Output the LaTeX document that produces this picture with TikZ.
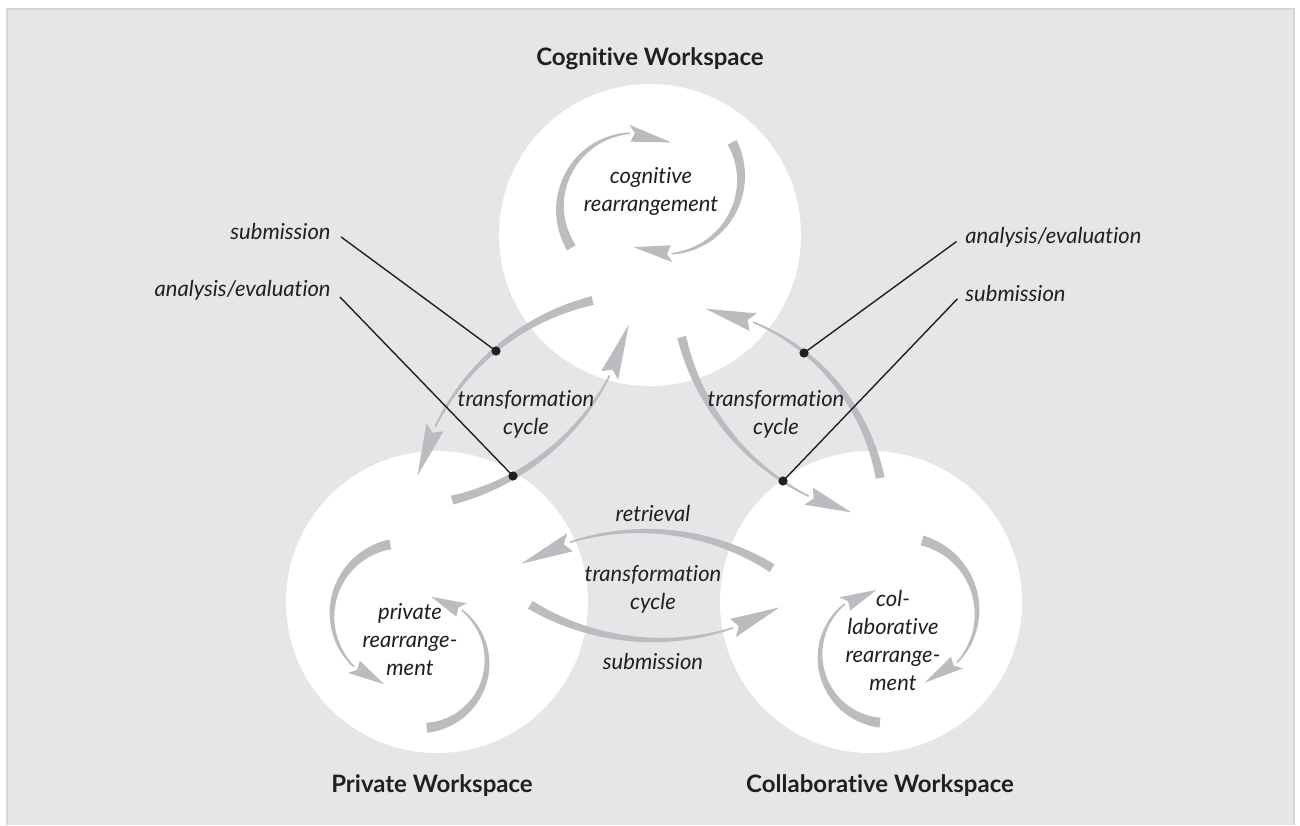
\documentclass[tikz,border=0pt]{standalone}
\usepackage{fontspec}
\setmainfont{Lato}[Ligatures=CommonOff]

\definecolor{panel}{HTML}{E5E6E8}
\definecolor{panelline}{HTML}{D6D7D9}
\definecolor{arrowgray}{HTML}{BBBCC0}
\definecolor{ink}{HTML}{231F20}

% tapered curved arrow: centre x, centre y, radius, tail angle, neck angle, tip angle, tail width, head half width
\newcommand{\cyclearrow}[8]{%
  \fill[arrowgray]
    plot[domain=#4:#5, samples=40] ({#1+(#3+0.5*(#7+(1.6-#7)*(\x-(#4))/((#5)-(#4))))*cos(\x)}, {#2-(#3+0.5*(#7+(1.6-#7)*(\x-(#4))/((#5)-(#4))))*sin(\x)})
    -- plot[domain=#5:#4, samples=40] ({#1+(#3-0.5*(#7+(1.6-#7)*(\x-(#4))/((#5)-(#4))))*cos(\x)}, {#2-(#3-0.5*(#7+(1.6-#7)*(\x-(#4))/((#5)-(#4))))*sin(\x)})
    -- cycle;
  \fill[arrowgray]
    ({#1+(#3+#8)*cos(#5)}, {#2-(#3+#8)*sin(#5)})
    -- ({#1+#3*cos(#6)}, {#2-#3*sin(#6)})
    -- ({#1+(#3-#8)*cos(#5)}, {#2-(#3-#8)*sin(#5)})
    -- ({#1+#3*cos(#5+0.12*((#6)-(#5)))}, {#2-#3*sin(#5+0.12*((#6)-(#5)))})
    -- cycle;
}

\begin{document}
\begin{tikzpicture}[
    x=0.5pt, y=-0.5pt,
    workspace/.style={circle, fill=white, minimum size=151pt, inner sep=0},
    title/.style={font=\bfseries\fontsize{12}{14}\selectfont, text=ink},
    lab/.style={font=\itshape\fontsize{11}{14}\selectfont, text=ink, align=center, inner sep=1pt},
    leader/.style={draw=ink, line width=0.7pt},
    dot/.style={fill=ink}
  ]
  \useasboundingbox (0,0) rectangle (1300,825);
  % Background
  \fill[white] (0,0) rectangle (1300,825);
  \fill[panel] (7,9) rectangle (1294,825);
  \draw[panelline, line width=0.8pt] (7,825) -- (7,9) -- (1294,9) -- (1294,825);

  % Workspaces
  \node[workspace] (cog) at (650,235) {};
  \node[workspace] (priv) at (437,602) {};
  \node[workspace] (coll) at (871,602) {};
  \node[title, anchor=base] (cogT) at (650,65) {Cognitive Workspace};
  \node[title, anchor=base] (privT) at (432,792) {Private Workspace};
  \node[title, anchor=base] (collT) at (880,792) {Collaborative Workspace};

  % Transformation cycles
  \cyclearrow{648}{531}{237}{103.5}{154}{166.5}{9}{9.5}
  \cyclearrow{395}{266}{241}{-76.3}{-27}{-14.1}{9}{9.5}
  \cyclearrow{672}{518}{212}{10.9}{67.5}{80.9}{9}{9.5}
  \cyclearrow{915}{281}{240}{193.5}{243.7}{254.6}{9}{9.5}
  \cyclearrow{643}{774}{243}{57.9}{107.5}{120.1}{9}{9.5}
  \cyclearrow{657}{394}{246}{-121}{-72}{-60.2}{9}{9.5}

  % Rearrangement loops
  \cyclearrow{635}{208}{75}{212}{94}{61}{10}{8.5}
  \cyclearrow{665}{178}{76}{28}{-85}{-114.6}{10}{8.5}
  \cyclearrow{404}{615}{72}{101}{226}{254}{10}{8.5}
  \cyclearrow{421}{662}{66}{-85}{52}{81}{10}{8.5}
  \cyclearrow{903}{612}{74}{75}{-43}{-73}{10}{8.5}
  \cyclearrow{887}{656}{67}{264}{129}{99}{10}{8.5}

  % Labels
  \node[lab] (cogL) at (651,191) {cognitive\\rearrangement};
  \node[lab] (privL) at (410,640) {private\\rearrange-\\ment};
  \node[lab] (collL) at (893,640) {col-\\laborative\\rearrange-\\ment};
  \node[lab] (cycL) at (526,414) {transformation\\cycle};
  \node[lab] (cycR) at (776,414) {transformation\\cycle};
  \node[lab] (cycB) at (653,589) {transformation\\cycle};
  \node[lab] (retr) at (653,513) {retrieval};
  \node[lab] (subm) at (653,661) {submission};

  \node[lab, anchor=base east] (subA) at (333,239) {submission};
  \node[lab, anchor=base east] (anaA) at (333,296) {analysis/evaluation};
  \node[lab, anchor=base west] (anaC) at (963,243) {analysis/evaluation};
  \node[lab, anchor=base west] (subD) at (963,301) {submission};

  % Leader lines
  \coordinate (dotA) at (496,351);
  \coordinate (dotB) at (513,476);
  \coordinate (dotC) at (804,353);
  \coordinate (dotD) at (783,481);
  \draw[leader, shorten <=5pt] (subA.east) -- (dotA);
  \draw[leader, shorten <=5pt] (anaA.east) -- (dotB);
  \draw[leader, shorten <=4pt] (anaC.west) -- (dotC);
  \draw[leader, shorten <=4pt] (subD.west) -- (dotD);
  \foreach \d in {dotA, dotB, dotC, dotD}
    \fill[dot] (\d) circle[radius=2.3pt];
\end{tikzpicture}
\end{document}
